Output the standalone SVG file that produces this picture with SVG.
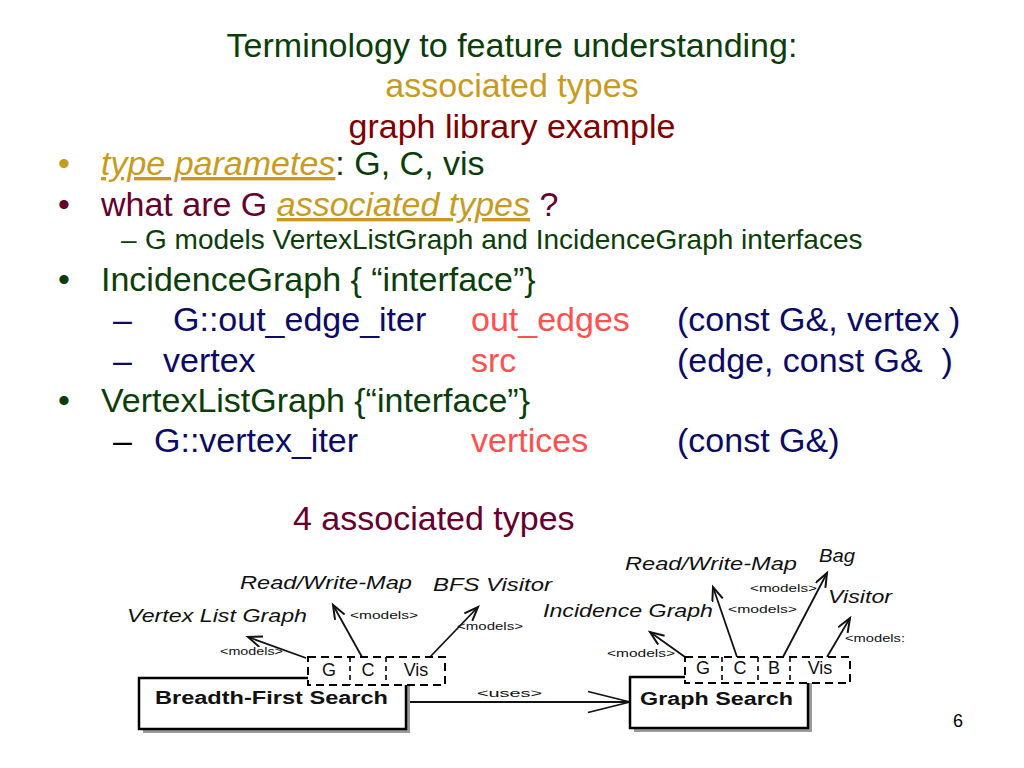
<svg xmlns="http://www.w3.org/2000/svg" width="1024" height="768" viewBox="0 0 1024 768">
<style>
text{font-family:"Liberation Sans",Arial,sans-serif;}
.t{font-size:34px;}
.s{font-size:28px;}
.green{fill:#0b3d0b;}
.gold{fill:#c89b1e;}
.maroon{fill:#66002e;}
.red2{fill:#800000;}
.navy{fill:#0b0b66;}
.red{fill:#ff5050;}
.it{font-style:italic;}
.lbl{font-size:19px;font-style:italic;fill:#111;}
.mod{font-size:11px;fill:#111;}
.box{fill:#fff;stroke:#000;stroke-width:2.5;}
.shadow{fill:#9a9a9a;}
.dash{fill:#fff;stroke:#000;stroke-width:2;stroke-dasharray:8 5;}
.dline{stroke:#000;stroke-width:1.6;stroke-dasharray:5 4;fill:none;}
.cell{font-size:18px;fill:#111;}
.bold{font-size:18px;font-weight:bold;fill:#111;}
.conn{stroke:#111;stroke-width:1.8;fill:none;}
</style>
<defs>
<marker id="open" markerUnits="userSpaceOnUse" markerWidth="18" markerHeight="14" refX="15" refY="6" orient="auto">
<path d="M1,0.5 L15,6 L1,11.5" fill="none" stroke="#111" stroke-width="2"/>
</marker>
<marker id="big" markerUnits="userSpaceOnUse" markerWidth="46" markerHeight="26" refX="43" refY="12" orient="auto">
<path d="M1,1.5 L43,12 L1,22.5" fill="none" stroke="#111" stroke-width="1.8"/>
</marker>
</defs>
<rect width="1024" height="768" fill="#fff"/>

<g id="title">
<text class="t green" x="512" y="57" text-anchor="middle">Terminology to feature understanding:</text>
<text class="t gold" x="512" y="97" text-anchor="middle">associated types</text>
<text class="t red2" x="512" y="138" text-anchor="middle">graph library example</text>
</g>

<g id="bullets">
<text class="t gold" x="58" y="175">•</text>
<text class="t" x="101" y="175"><tspan class="gold it" text-decoration="underline">type parametes</tspan><tspan class="green">: G, C, vis</tspan></text>
<text class="t maroon" x="58" y="216">•</text>
<text class="t" x="101" y="216"><tspan class="maroon">what are G </tspan><tspan class="gold it" text-decoration="underline">associated types</tspan><tspan class="maroon"> ?</tspan></text>
<text class="s green" x="121" y="249">–</text>
<text class="s green" x="145" y="249">G models VertexListGraph and IncidenceGraph interfaces</text>
<text class="t green" x="58" y="291">•</text>
<text class="t green" x="101" y="291">IncidenceGraph { “interface”}</text>
<text class="t navy" x="113" y="331">–</text>
<text class="t navy" x="173" y="331">G::out_edge_iter</text>
<text class="t red" x="471" y="331">out_edges</text>
<text class="t navy" x="677" y="331">(const G&amp;, vertex )</text>
<text class="t navy" x="113" y="372">–</text>
<text class="t navy" x="163" y="372">vertex</text>
<text class="t red" x="471" y="372">src</text>
<text class="t navy" x="677" y="372" xml:space="preserve">(edge, const G&amp;  )</text>
<text class="t green" x="58" y="412">•</text>
<text class="t green" x="101" y="412">VertexListGraph {“interface”}</text>
<text class="t" x="113" y="452" fill="#000">–</text>
<text class="t navy" x="154" y="452">G::vertex_iter</text>
<text class="t red" x="471" y="452">vertices</text>
<text class="t navy" x="677" y="452">(const G&amp;)</text>
<text class="t maroon" x="293" y="530">4 associated types</text>
<text x="953" y="727" font-size="18" fill="#000">6</text>
</g>

<g id="connectors">
<path class="conn" marker-end="url(#open)" d="M306,658 L248,637"/>
<path class="conn" marker-end="url(#open)" d="M362,657 L333,605"/>
<path class="conn" marker-end="url(#open)" d="M430,657 L478,607"/>
<path class="conn" marker-end="url(#open)" d="M685,657 L650,632"/>
<path class="conn" marker-end="url(#open)" d="M737,657 L713,587"/>
<path class="conn" marker-end="url(#open)" d="M783,657 L827,573"/>
<path class="conn" marker-end="url(#open)" d="M827,657 L850,618"/>
<path class="conn" marker-end="url(#big)" d="M407,702 L630,702"/>
<text class="mod" x="477" y="697" font-size="12" textLength="65" lengthAdjust="spacingAndGlyphs">&lt;uses&gt;</text>
<text class="mod" x="220" y="655" textLength="63" lengthAdjust="spacingAndGlyphs">&lt;models&gt;</text>
<text class="mod" x="350" y="619" textLength="68" lengthAdjust="spacingAndGlyphs">&lt;models&gt;</text>
<text class="mod" x="457" y="630" textLength="66" lengthAdjust="spacingAndGlyphs">&lt;models&gt;</text>
<text class="mod" x="607" y="657" textLength="68" lengthAdjust="spacingAndGlyphs">&lt;models&gt;</text>
<text class="mod" x="728" y="613" textLength="69" lengthAdjust="spacingAndGlyphs">&lt;models&gt;</text>
<text class="mod" x="750" y="592" textLength="67" lengthAdjust="spacingAndGlyphs">&lt;models&gt;</text>
<text class="mod" x="845" y="642" textLength="60" lengthAdjust="spacingAndGlyphs">&lt;models:</text>
</g>

<g id="interfaces-left">
<text class="lbl" x="127" y="622" textLength="180" lengthAdjust="spacingAndGlyphs">Vertex List Graph</text>
<text class="lbl" x="240" y="589" textLength="172" lengthAdjust="spacingAndGlyphs">Read/Write-Map</text>
<text class="lbl" x="433" y="591" textLength="119" lengthAdjust="spacingAndGlyphs">BFS Visitor</text>
</g>

<g id="interfaces-right">
<text class="lbl" x="625" y="570" textLength="172" lengthAdjust="spacingAndGlyphs">Read/Write-Map</text>
<text class="lbl" x="819" y="562" textLength="36" lengthAdjust="spacingAndGlyphs">Bag</text>
<text class="lbl" x="828" y="603" textLength="64" lengthAdjust="spacingAndGlyphs">Visitor</text>
<text class="lbl" x="543" y="617" textLength="170" lengthAdjust="spacingAndGlyphs">Incidence Graph</text>
</g>

<g id="bfs">
<rect class="shadow" x="143" y="682" width="267" height="51"/>
<rect class="box" x="139" y="678" width="267" height="51"/>
<text class="bold" x="155" y="704" textLength="233" lengthAdjust="spacingAndGlyphs">Breadth-First Search</text>
<rect class="dash" x="308" y="657" width="137" height="28"/>
<line class="dline" x1="350" y1="657" x2="350" y2="685"/>
<line class="dline" x1="386" y1="657" x2="386" y2="685"/>
<text class="cell" x="329" y="676" text-anchor="middle">G</text>
<text class="cell" x="368" y="676" text-anchor="middle">C</text>
<text class="cell" x="416" y="676" text-anchor="middle">Vis</text>
</g>

<g id="graph-search">
<rect class="shadow" x="634" y="681" width="178" height="51"/>
<rect class="box" x="630" y="677" width="178" height="51"/>
<text class="bold" x="640" y="705" textLength="153" lengthAdjust="spacingAndGlyphs">Graph Search</text>
<rect class="dash" x="685" y="657" width="165" height="26"/>
<line class="dline" x1="722" y1="657" x2="722" y2="683"/>
<line class="dline" x1="758" y1="657" x2="758" y2="683"/>
<line class="dline" x1="790" y1="657" x2="790" y2="683"/>
<text class="cell" x="703" y="674" text-anchor="middle" font-size="17">G</text>
<text class="cell" x="740" y="674" text-anchor="middle" font-size="17">C</text>
<text class="cell" x="774" y="674" text-anchor="middle" font-size="17">B</text>
<text class="cell" x="820" y="674" text-anchor="middle" font-size="17">Vis</text>
</g>
</svg>
